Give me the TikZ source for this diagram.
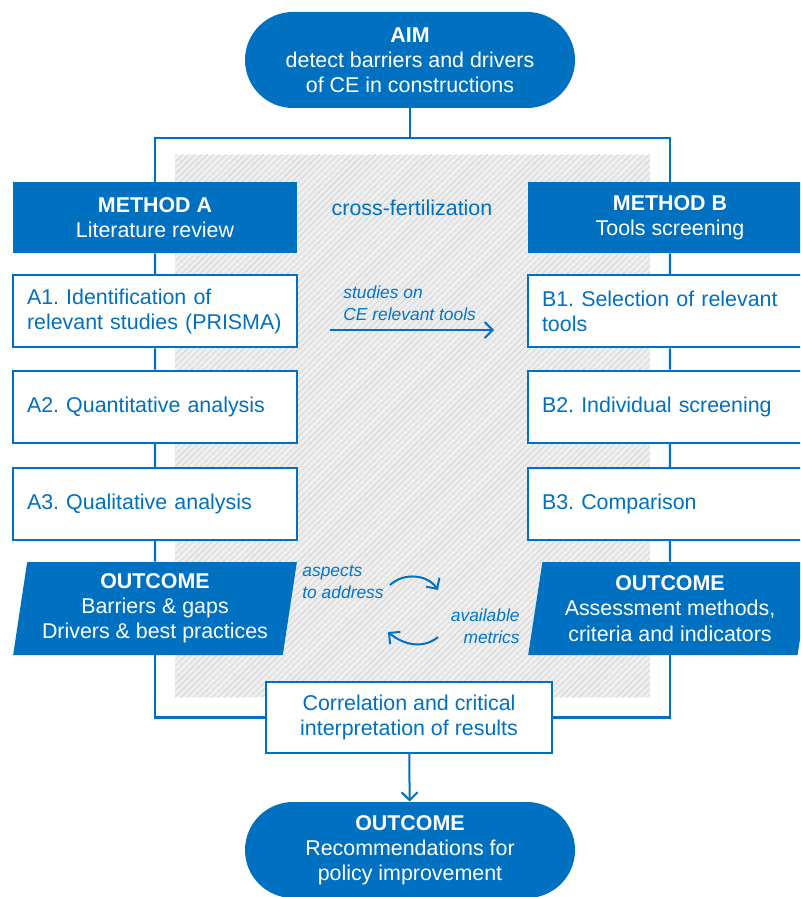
\documentclass[tikz,border=0pt]{standalone}
\usepackage{fontspec}
\setmainfont{Liberation Sans}
\usetikzlibrary{arrows.meta, positioning, shapes.geometric, patterns.meta}
\definecolor{ceblue}{RGB}{0, 112, 192}
\definecolor{notedblue}{RGB}{0, 118, 204}
\definecolor{hatchgray}{RGB}{238, 238, 238}
\definecolor{hatchline}{RGB}{208, 208, 208}
\frenchspacing

\begin{document}
\begin{tikzpicture}[
    x=0.5pt, y=0.5pt,
    font=\fontsize{10.7}{12.6}\selectfont,
    pill/.style={fill=ceblue, text=white, rounded corners=24pt, minimum width=165pt, minimum height=48pt, align=center},
    header/.style={fill=ceblue, text=white, minimum width=142pt, minimum height=35.5pt, align=center},
    stepbox/.style={draw=ceblue, line width=1pt, fill=white, text=ceblue, minimum height=36pt, text width=128pt, inner xsep=7pt, align=left},
    resultbox/.style={draw=ceblue, line width=1pt, fill=white, text=ceblue, minimum width=143pt, minimum height=35.5pt, align=center},
    outcome/.style={trapezium, trapezium left angle=81, trapezium right angle=99, trapezium stretches=true, fill=ceblue, text=white, minimum width=142pt, minimum height=46.5pt, align=center},
    note/.style={text=notedblue, font=\fontsize{8.7}{11}\selectfont\itshape, inner sep=0pt},
    link/.style={draw=ceblue, line width=1.2pt},
    arrow/.style={draw=ceblue, line width=1pt, -{Straight Barb[length=4pt,width=8pt]}}
]
\useasboundingbox (0,0) rectangle (800,-897);
\clip (0,0) rectangle (800,-897);

% Hatched cross-fertilization field
\fill[hatchgray] (175,-155) rectangle (650,-697);
\fill[pattern={Lines[angle=45,distance=2.2pt,line width=0.3pt]}, pattern color=hatchline] (175,-155) rectangle (650,-697);

% Aim
\node[pill] (aim) at (410,-60) {\textbf{AIM}\\detect barriers and drivers\\of CE in constructions};
\coordinate (split) at (410,-138);

% Method A column (left)
\node[header] (metha) at (155,-217.5) {\textbf{METHOD A}\\Literature review};
\node[stepbox] (a1) at (155,-311.5) {A1. Identification of\\relevant studies (PRISMA)};
\node[stepbox] (a2) at (155,-406.5) {A2. Quantitative analysis};
\node[stepbox] (a3) at (155,-504) {A3. Qualitative analysis};
\node[outcome] (outa) at (155,-608.5) {\textbf{OUTCOME}\\Barriers \& gaps\\Drivers \& best practices};

% Method B column (right)
\node[header] (methb) at (670,-217.5) {\textbf{METHOD B}\\Tools screening};
\node[stepbox] (b1) at (670,-311.5) {B1. Selection of relevant\\tools};
\node[stepbox] (b2) at (670,-406.5) {B2. Individual screening};
\node[stepbox] (b3) at (670,-504) {B3. Comparison};
\node[outcome] (outb) at (670,-608.5) {\textbf{OUTCOME}\\Assessment methods,\\criteria and indicators};

% Synthesis
\node[resultbox] (corr) at (409,-717.5) {Correlation and critical\\interpretation of results};
\node[pill] (final) at (410,-850) {\textbf{OUTCOME}\\Recommendations for\\policy improvement};

% Frame connectors
\draw[link] (aim) -- (split);
\draw[link] (split) -| (metha);
\draw[link] (split) -| (methb);
\draw[link] (metha) -- (a1) -- (a2) -- (a3) -- (outa);
\draw[link] (methb) -- (b1) -- (b2) -- (b3) -- (outb);
\draw[link] (outa) |- (corr);
\draw[link] (outb) |- (corr);
\draw[arrow] (corr) -- (final);

% Cross-fertilization labels
\node[text=ceblue] (cross) at (412,-208) {cross-fertilization};
\coordinate (sfrom) at (330,-330);
\coordinate (sto) at (494,-330);
\draw[arrow] (sfrom) -- (sto);
\node[note, align=left, anchor=north west] (studies) at (343,-285) {studies on\\CE relevant tools};

% Exchange loop
\node[note, align=left, anchor=north west] (aspects) at (302,-565) {aspects\\to address};
\node[note, align=right, anchor=north east] (metrics) at (520,-608) {available\\metrics};
\coordinate (ltop) at (390,-585);
\coordinate (rtop) at (438,-590);
\coordinate (rbot) at (438,-637);
\coordinate (lbot) at (388,-632);
\draw[arrow] (ltop) to[out=43, in=124] (rtop);
\draw[arrow] (rbot) to[out=-140, in=-40] (lbot);

\end{tikzpicture}
\end{document}
